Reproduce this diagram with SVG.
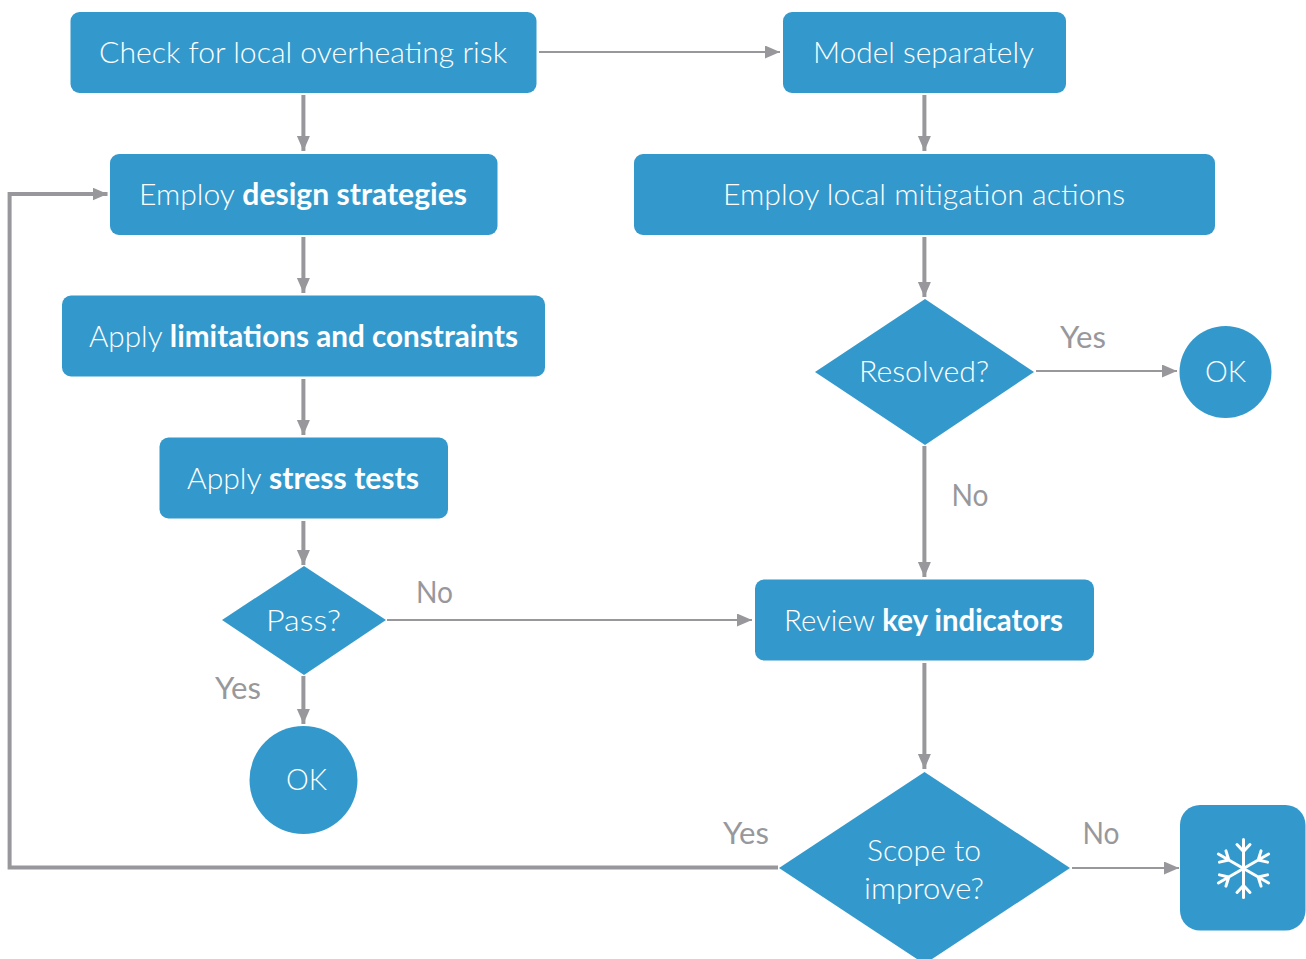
<svg xmlns="http://www.w3.org/2000/svg" width="1306" height="959" viewBox="0 0 1306 959">
<style>
.n{fill:#3399cc}
text{font-family:"Lato","Noto Sans",sans-serif;font-size:30px}
.t{fill:#fff;text-anchor:middle;font-weight:300}
.l{fill:#98989c;text-anchor:middle}
.b{font-weight:700}
.c{fill:none;stroke:#98989c}
.w3{stroke-width:4;marker-end:url(#a)}
.w2{stroke-width:2;marker-end:url(#a)}
.s{stroke:#fff;stroke-width:3;fill:none;stroke-linecap:round;stroke-linejoin:round}
</style>
<defs>
<marker id="a" markerUnits="userSpaceOnUse" markerWidth="16" markerHeight="14" refX="15" refY="6.500" orient="auto"><path d="M0 0L15 6.500L0 13z" fill="#98989c"/></marker>
<g id="sf-arm"><path d="M0 0V-29M-6.500 -24L0 -17L6.500 -24" class="s"/></g>
</defs>
<g id="connectors">
<path class="c w3" d="M303.400 95V151"/>
<path class="c w3" d="M303.400 237V293"/>
<path class="c w3" d="M303.400 379V435"/>
<path class="c w3" d="M303.400 521V565"/>
<path class="c w3" d="M303.400 676V724"/>
<path class="c w2" d="M539 52H780"/>
<path class="c w3" d="M924.400 95V151"/>
<path class="c w3" d="M924.400 237V297"/>
<path class="c w2" d="M1036 371H1177"/>
<path class="c w3" d="M924.400 446V577"/>
<path class="c w2" d="M387 620H752"/>
<path class="c w3" d="M924.400 663V769"/>
<path class="c w2" d="M1072 868H1179"/>
<path class="c w3" stroke-linejoin="miter" d="M778 867.500H9.600V194H107.500"/>
</g>
<g id="n1"><rect class="n" x="70.500" y="12" width="466" height="81" rx="9"/><text class="t" x="303" y="63" textLength="408" lengthAdjust="spacingAndGlyphs">Check for local overheating risk</text></g>
<g id="n2"><rect class="n" x="110" y="154" width="387.500" height="81" rx="9"/><text class="t" x="303" y="205" textLength="328" lengthAdjust="spacingAndGlyphs">Employ <tspan class="b">design strategies</tspan></text></g>
<g id="n3"><rect class="n" x="62" y="295.500" width="483" height="81" rx="9"/><text class="t" x="303.500" y="347" textLength="429" lengthAdjust="spacingAndGlyphs">Apply <tspan class="b">limitations and constraints</tspan></text></g>
<g id="n4"><rect class="n" x="159.500" y="437.500" width="288.500" height="81" rx="9"/><text class="t" x="303" y="489" textLength="232" lengthAdjust="spacingAndGlyphs">Apply <tspan class="b">stress tests</tspan></text></g>
<g id="n5"><path class="n" d="M304 566L386 620L304 675L222 620z"/><text class="t" x="303.500" y="631" textLength="75" lengthAdjust="spacingAndGlyphs">Pass?</text></g>
<g id="n6"><circle class="n" cx="303.500" cy="780" r="54"/><text class="t" x="306.500" y="790" textLength="41" lengthAdjust="spacingAndGlyphs">OK</text></g>
<g id="n7"><rect class="n" x="783" y="12" width="283" height="81" rx="9"/><text class="t" x="923.500" y="63" textLength="221" lengthAdjust="spacingAndGlyphs">Model separately</text></g>
<g id="n8"><rect class="n" x="634" y="154" width="581" height="81" rx="9"/><text class="t" x="924" y="205" textLength="402" lengthAdjust="spacingAndGlyphs">Employ local mitigation actions</text></g>
<g id="n9"><path class="n" d="M925 299L1034 372L925 445L815 372z"/><text class="t" x="924" y="382" textLength="130" lengthAdjust="spacingAndGlyphs">Resolved?</text></g>
<g id="n10"><circle class="n" cx="1225.500" cy="372" r="46"/><text class="t" x="1225.500" y="382" textLength="41" lengthAdjust="spacingAndGlyphs">OK</text></g>
<g id="n11"><rect class="n" x="755" y="579.500" width="339" height="81" rx="9"/><text class="t" x="923.500" y="631" textLength="279" lengthAdjust="spacingAndGlyphs">Review <tspan class="b">key indicators</tspan></text></g>
<g id="n12"><path class="n" d="M924.500 772L1070 868L924.500 964L779 868z"/><text class="t" x="924" y="861" textLength="114" lengthAdjust="spacingAndGlyphs">Scope to</text><text class="t" x="924" y="899" textLength="120" lengthAdjust="spacingAndGlyphs">improve?</text></g>
<g id="n13"><rect class="n" x="1180" y="805" width="125.500" height="125.500" rx="20"/>
<g transform="translate(1243.500 868.500)">
<use href="#sf-arm"/><use href="#sf-arm" transform="rotate(60)"/><use href="#sf-arm" transform="rotate(120)"/><use href="#sf-arm" transform="rotate(180)"/><use href="#sf-arm" transform="rotate(240)"/><use href="#sf-arm" transform="rotate(300)"/>
</g></g>
<g id="labels">
<text class="l" x="1083" y="348" textLength="46" lengthAdjust="spacingAndGlyphs">Yes</text>
<text class="l" x="970" y="506" textLength="37" lengthAdjust="spacingAndGlyphs">No</text>
<text class="l" x="434.500" y="603" textLength="37" lengthAdjust="spacingAndGlyphs">No</text>
<text class="l" x="238" y="699" textLength="46" lengthAdjust="spacingAndGlyphs">Yes</text>
<text class="l" x="746" y="844" textLength="46" lengthAdjust="spacingAndGlyphs">Yes</text>
<text class="l" x="1101" y="844" textLength="37" lengthAdjust="spacingAndGlyphs">No</text>
</g>
</svg>
